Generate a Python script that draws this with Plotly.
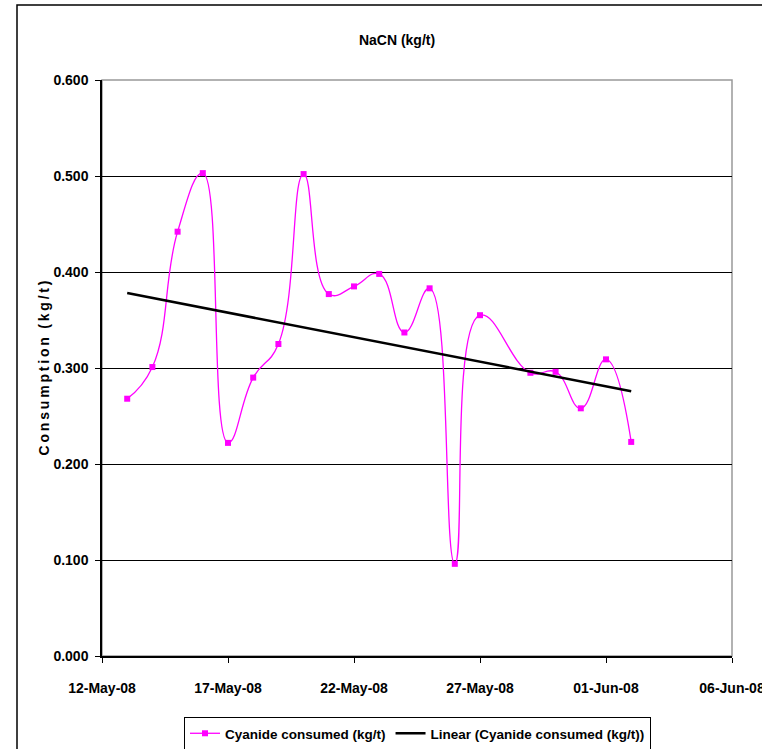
import numpy as np
import pandas as pd
import plotly.graph_objects as go

# Daily NaCN consumption (kg/t); no reading on 28-May-08
dates = ["2008-05-13", "2008-05-14", "2008-05-15", "2008-05-16", "2008-05-17",
         "2008-05-18", "2008-05-19", "2008-05-20", "2008-05-21", "2008-05-22",
         "2008-05-23", "2008-05-24", "2008-05-25", "2008-05-26", "2008-05-27",
         "2008-05-29", "2008-05-30", "2008-05-31", "2008-06-01", "2008-06-02"]
consumed = [0.268, 0.301, 0.442, 0.503, 0.222,
            0.290, 0.325, 0.502, 0.377, 0.385,
            0.398, 0.337, 0.383, 0.096, 0.355,
            0.295, 0.296, 0.258, 0.309, 0.223]

x_ticks = ["2008-05-12", "2008-05-17", "2008-05-22", "2008-05-27", "2008-06-01", "2008-06-06"]
x_tick_text = ["12-May-08", "17-May-08", "22-May-08", "27-May-08", "01-Jun-08", "06-Jun-08"]
y_ticks = [0.0, 0.1, 0.2, 0.3, 0.4, 0.5, 0.6]

d = pd.to_datetime(dates)
days = (d - d[0]).days.to_numpy()
slope, intercept = np.polyfit(days, np.array(consumed), 1)
trend_x = [d[0], d[-1]]
trend_y = [intercept, intercept + slope * days[-1]]

FONT = "Liberation Sans"
MAGENTA = "#FF00FF"
W, H = 762, 749
L, R, T, B = 102, 30, 80, 93
PW, PH = W - L - R, H - T - B

fig = go.Figure()
fig.add_trace(go.Scatter(
    x=d, y=consumed, mode="lines+markers", name="Cyanide consumed (kg/t)",
    line=dict(color=MAGENTA, width=1.3, shape="spline", smoothing=1.3),
    marker=dict(symbol="square", size=6, color=MAGENTA),
))
fig.add_trace(go.Scatter(
    x=trend_x, y=trend_y, mode="lines", name="Linear (Cyanide consumed (kg/t))",
    line=dict(color="black", width=2.5),
))

# plot-area frame (grey top/right) and outer chart border
fig.add_shape(type="rect", xref="paper", yref="paper", x0=0, x1=1, y0=0, y1=1,
              line=dict(color="#999999", width=1.5), layer="below")
fig.add_shape(type="rect", xref="paper", yref="paper",
              x0=(17 - L) / PW, x1=1.3, y0=-0.4, y1=1 + (T - 5) / PH,
              line=dict(color="black", width=1.5), layer="below")

fig.update_layout(
    width=W, height=H,
    margin=dict(l=L, r=R, t=T, b=B, autoexpand=False),
    paper_bgcolor="white", plot_bgcolor="white",
    font=dict(family=FONT, size=14, color="black", weight="bold"),
    title=dict(text="NaCN (kg/t)", x=397 / W, xanchor="center", y=1 - 40 / H, yanchor="middle",
               font=dict(family=FONT, size=14, color="black", weight="bold")),
    showlegend=True,
    legend=dict(orientation="h", x=(184 - L) / PW, xanchor="left",
                y=-(717 - T - PH) / PH, yanchor="top", bordercolor="black", borderwidth=1,
                bgcolor="white", font=dict(family=FONT, size=13.5, weight="bold"),
                itemwidth=30, tracegroupgap=0),
)

fig.update_xaxes(
    type="date", range=["2008-05-12", "2008-06-06"],
    tickvals=pd.to_datetime(x_ticks), ticktext=x_tick_text,
    ticks="outside", ticklen=5, tickcolor="black", tickwidth=1,
    showline=True, linecolor="black", linewidth=1.5,
    showgrid=False, zeroline=False, ticklabelstandoff=13,
    ticklabeloverflow="allow",
    tickfont=dict(family=FONT, size=14, weight="bold"),
)
fig.update_yaxes(
    range=[0, 0.6], tickvals=y_ticks, tickformat=".3f",
    ticks="outside", ticklen=5, tickcolor="black", tickwidth=1,
    showline=True, linecolor="black", linewidth=1.5,
    showgrid=True, gridcolor="black", gridwidth=1, zeroline=False,
    ticklabelstandoff=4,
    tickfont=dict(family=FONT, size=14, weight="bold"),
    title=dict(text="\u2009".join("Consumption") + "\u2009\u2009\u2009" + "\u2009".join("(kg/t)"),
               font=dict(family=FONT, size=14, weight="bold"), standoff=1),
)

fig.write_html("out.html")
